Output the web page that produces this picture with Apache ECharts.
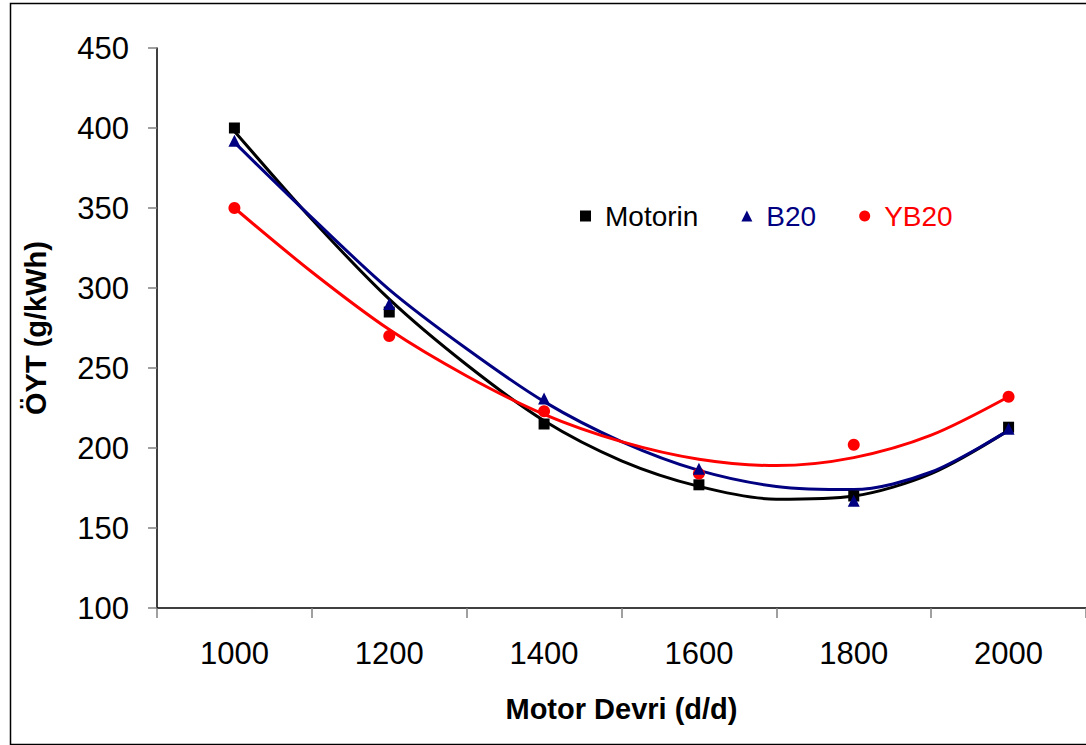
<!DOCTYPE html>
<html>
<head>
<meta charset="utf-8">
<script src="https://cdn.jsdelivr.net/npm/echarts@6/dist/echarts.min.js"></script>
<style>
  html, body { margin: 0; padding: 0; background: #fff; }
  #chart { width: 1086px; height: 745px; }
</style>
</head>
<body>
<div id="chart"></div>
<script>
// measured points
var rpm = [1000, 1200, 1400, 1600, 1800, 2000];
var motorin = [400, 285, 215, 177, 170, 213];
var b20 = [392, 290, 231, 187, 167, 212];
var yb20 = [350, 270, 223, 184, 202, 232];

// trend curves, every 100 rpm
var trendRpm = [1000, 1100, 1200, 1300, 1400, 1500, 1600, 1700, 1800, 1900, 2000];
var motorinTrend = [398, 343, 293, 252, 217, 192, 176, 168, 170, 184, 211];
var b20Trend = [391, 344, 299, 262, 229, 204, 186, 176, 174, 185, 211];
var yb20Trend = [350, 310, 274, 245, 221, 204, 193, 189, 194, 208, 232];

var xLabels = [1000, 1200, 1400, 1600, 1800, 2000];
var xTicks = [900, 1100, 1300, 1500, 1700, 1900, 2100];

var font = 'Liberation Sans, Arial, sans-serif';

function pairs(xs, ys) {
  return xs.map(function(x, i) { return [x, ys[i]]; });
}

var chart = echarts.init(document.getElementById('chart'), null, { renderer: 'svg' });
chart.setOption({
  animation: false,
  backgroundColor: '#fff',
  graphic: [{
    type: 'rect', left: 8, top: 1, silent: true,
    shape: { width: 1100, height: 741 },
    style: { fill: 'none', stroke: '#000', lineWidth: 1.5 }
  }],
  grid: { left: 157, top: 48, right: 0, bottom: 137, containLabel: false },
  legend: {
    left: 575, top: 197,
    itemWidth: 11, itemHeight: 11, itemGap: 43,
    textStyle: { fontFamily: font, fontSize: 28, padding: [0, 0, 0, 9] },
    data: [
      { name: 'Motorin', icon: 'rect', textStyle: { color: '#000' } },
      { name: 'B20', icon: 'triangle', textStyle: { color: '#000080' } },
      { name: 'YB20', icon: 'circle', textStyle: { color: '#ff0000' } }
    ]
  },
  xAxis: {
    type: 'value', min: 900, max: 2100,
    name: 'Motor Devri (d/d)', nameLocation: 'middle', nameGap: 86,
    nameTextStyle: { fontFamily: font, fontSize: 29, fontWeight: 'bold', color: '#000' },
    axisLine: { lineStyle: { color: '#000', width: 1.5 } },
    axisTick: { show: true, length: 10, customValues: xTicks, lineStyle: { color: '#808080', width: 1.5 } },
    axisLabel: { customValues: xLabels, margin: 30, fontFamily: font, fontSize: 31, color: '#000',
      formatter: function(v) { return String(v); } },
    splitLine: { show: false }
  },
  yAxis: {
    type: 'value', min: 100, max: 450, interval: 50,
    name: 'ÖYT (g/kWh)', nameLocation: 'middle', nameGap: 107,
    nameTextStyle: { fontFamily: font, fontSize: 29, fontWeight: 'bold', color: '#000' },
    axisLine: { show: true, lineStyle: { color: '#000', width: 1.5 } },
    axisTick: { show: true, length: 9, lineStyle: { color: '#808080', width: 1.5 } },
    axisLabel: { margin: 28, fontFamily: font, fontSize: 31, color: '#000' },
    splitLine: { show: false }
  },
  series: [
    { name: 'Motorin trend', type: 'line', smooth: 0.3, symbol: 'none', data: pairs(trendRpm, motorinTrend),
      lineStyle: { color: '#000', width: 3 }, z: 2 },
    { name: 'B20 trend', type: 'line', smooth: 0.3, symbol: 'none', data: pairs(trendRpm, b20Trend),
      lineStyle: { color: '#000080', width: 3 }, z: 2 },
    { name: 'YB20 trend', type: 'line', smooth: 0.3, symbol: 'none', data: pairs(trendRpm, yb20Trend),
      lineStyle: { color: '#ff0000', width: 3 }, z: 2 },
    { name: 'Motorin', type: 'scatter', symbol: 'rect', symbolSize: 11, data: pairs(rpm, motorin),
      itemStyle: { color: '#000', opacity: 1 }, z: 3 },
    { name: 'YB20', type: 'scatter', symbol: 'circle', symbolSize: 12, data: pairs(rpm, yb20),
      itemStyle: { color: '#ff0000', opacity: 1 }, z: 4 },
    { name: 'B20', type: 'scatter', symbol: 'triangle', symbolSize: 12, data: pairs(rpm, b20),
      itemStyle: { color: '#000080', opacity: 1 }, z: 5 }
  ]
});
</script>
</body>
</html>
